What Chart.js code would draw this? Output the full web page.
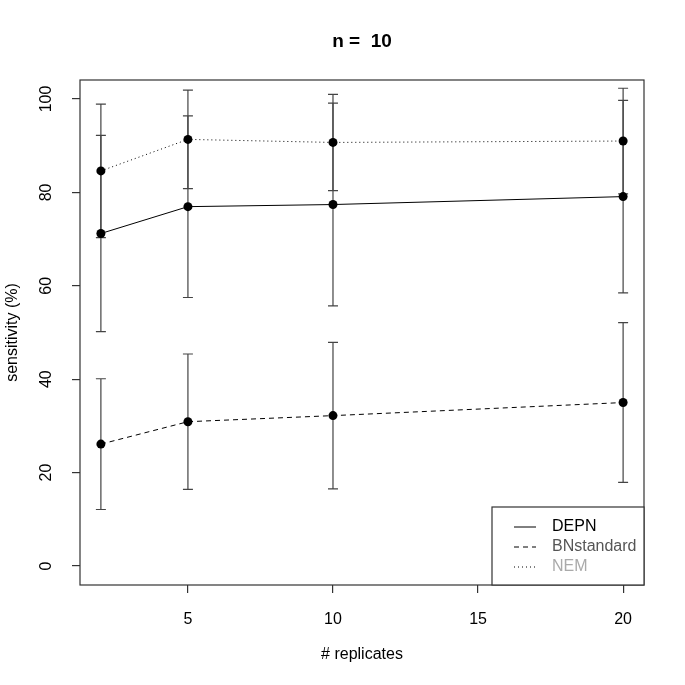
<!DOCTYPE html>
<html>
<head>
<meta charset="utf-8">
<script src="https://cdn.jsdelivr.net/npm/chart.js@4/dist/chart.umd.min.js"></script>
<style>
  body { margin: 0; background: #fff; }
  #wrap { width: 685px; height: 685px; }
</style>
</head>
<body>
<div id="wrap"><canvas id="chart" width="685" height="685"></canvas></div>
<script>
'use strict'

//Data ---------------------------------------------------------
const replicates = [2, 5, 10, 20];
const depnMean = [71.2, 76.95, 77.4, 79.1];
const depnErr = [21.0, 19.45, 21.7, 20.6];
const bnMean = [26.1, 30.9, 32.2, 35.0];
const bnErr = [14.0, 14.5, 15.7, 17.1];
const nemMean = [84.6, 91.35, 90.7, 91.0];
const nemErr = [14.3, 10.55, 10.3, 11.3];
const seriesNames = ['DEPN', 'BNstandard', 'NEM'];
const legendTextColors = ['#000000', '#555555', '#aaaaaa'];
const xTicks = [5, 10, 15, 20];
const yTicks = [0, 20, 40, 60, 80, 100];
const chartTitle = 'n =  10';
const xTitle = '# replicates';
const yTitle = 'sensitivity (%)';

const fontFamily = '"Liberation Sans", Arial, sans-serif';

function toPoints(mean) {
  return replicates.map((x, i) => ({ x: x, y: mean[i] }));
}

function makeDataset(label, mean, err, dash) {
  return {
    label: label,
    data: toPoints(mean),
    errors: err,
    borderColor: '#000',
    borderWidth: 1,
    borderDash: dash,
    backgroundColor: '#000',
    pointRadius: 4.5,
    pointBorderWidth: 0,
    pointBackgroundColor: '#000',
    showLine: true,
    tension: 0
  };
}

//Plugin: R style decorations ---------------------------------------------------------
const rPlotPlugin = {
  id: 'rPlot',
  beforeDatasetsDraw(chart) {
    const ctx = chart.ctx;
    const xs = chart.scales.x;
    const ys = chart.scales.y;
    ctx.save();
    ctx.strokeStyle = '#444';
    ctx.lineWidth = 1.2;
    chart.data.datasets.forEach(ds => {
      ds.data.forEach((p, i) => {
        const px = xs.getPixelForValue(p.x);
        const top = ys.getPixelForValue(p.y + ds.errors[i]);
        const bot = ys.getPixelForValue(p.y - ds.errors[i]);
        ctx.beginPath();
        ctx.moveTo(px, top);
        ctx.lineTo(px, bot);
        ctx.moveTo(px - 5, top);
        ctx.lineTo(px + 5, top);
        ctx.moveTo(px - 5, bot);
        ctx.lineTo(px + 5, bot);
        ctx.stroke();
      });
    });
    ctx.restore();
  },
  afterDraw(chart) {
    const ctx = chart.ctx;
    const area = chart.chartArea;
    const ys = chart.scales.y;
    ctx.save();

    // box round the plot
    ctx.strokeStyle = '#333';
    ctx.lineWidth = 1.2;
    ctx.strokeRect(area.left, area.top, area.right - area.left, area.bottom - area.top);

    // title
    ctx.fillStyle = '#000';
    ctx.textAlign = 'center';
    ctx.textBaseline = 'middle';
    ctx.font = 'bold 19px ' + fontFamily;
    ctx.fillText(chartTitle, (area.left + area.right) / 2, 42);

    // x title
    ctx.font = '16px ' + fontFamily;
    ctx.fillText(xTitle, (area.left + area.right) / 2, 655);

    // y tick labels, rotated like R
    yTicks.forEach(v => {
      ctx.save();
      ctx.translate(area.left - 33, ys.getPixelForValue(v));
      ctx.rotate(-Math.PI / 2);
      ctx.fillText(String(v), 0, 0);
      ctx.restore();
    });

    // y title
    ctx.save();
    ctx.translate(13, (area.top + area.bottom) / 2);
    ctx.rotate(-Math.PI / 2);
    ctx.fillText(yTitle, 0, 0);
    ctx.restore();

    // legend, bottom right
    const lw = 152, lh = 78;
    const lx = area.right - lw, ly = area.bottom - lh;
    ctx.fillStyle = '#fff';
    ctx.fillRect(lx, ly, lw, lh);
    ctx.strokeStyle = '#333';
    ctx.strokeRect(lx, ly, lw, lh);
    ctx.textAlign = 'left';
    chart.data.datasets.forEach((ds, i) => {
      const rowY = ly + 20 + i * 20;
      ctx.strokeStyle = '#000';
      ctx.lineWidth = 1;
      ctx.setLineDash(ds.borderDash);
      ctx.beginPath();
      ctx.moveTo(lx + 22, rowY);
      ctx.lineTo(lx + 44, rowY);
      ctx.stroke();
      ctx.setLineDash([]);
      ctx.fillStyle = legendTextColors[i];
      ctx.fillText(seriesNames[i], lx + 60, rowY);
    });

    ctx.restore();
  }
};

//Chart ---------------------------------------------------------
const ctx = document.getElementById('chart').getContext('2d');

const myChart = new Chart(ctx, {
  type: 'scatter',
  data: {
    datasets: [
      makeDataset(seriesNames[0], depnMean, depnErr, []),
      makeDataset(seriesNames[1], bnMean, bnErr, [5, 4]),
      makeDataset(seriesNames[2], nemMean, nemErr, [1, 3])
    ]
  },
  options: {
    responsive: false,
    animation: false,
    layout: { padding: { left: 0, top: 80, right: 41, bottom: 0 } },
    plugins: {
      legend: { display: false },
      tooltip: { enabled: false },
      title: { display: false }
    },
    scales: {
      x: {
        type: 'linear',
        min: 1.28,
        max: 20.72,
        afterBuildTicks: scale => { scale.ticks = xTicks.map(v => ({ value: v })); },
        afterFit: scale => { scale.height = 100; },
        border: { display: false },
        grid: { drawOnChartArea: false, drawTicks: true, tickLength: 8, color: '#333', lineWidth: 1.2 },
        ticks: {
          color: '#000',
          padding: 17,
          maxRotation: 0,
          font: { family: fontFamily, size: 16 }
        }
      },
      y: {
        type: 'linear',
        min: -4.07,
        max: 104.07,
        afterBuildTicks: scale => { scale.ticks = yTicks.map(v => ({ value: v })); },
        afterFit: scale => { scale.width = 80; },
        border: { display: false },
        grid: { drawOnChartArea: false, drawTicks: true, tickLength: 8, color: '#333', lineWidth: 1.2 },
        ticks: { display: false }
      }
    }
  },
  plugins: [rPlotPlugin]
});
</script>
</body>
</html>
